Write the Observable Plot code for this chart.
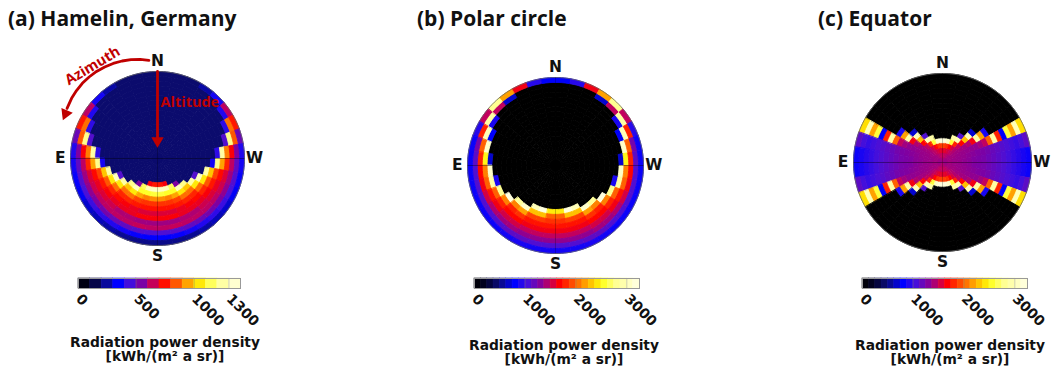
<!DOCTYPE html>
<html>
<head>
<meta charset="utf-8">
<script src="https://cdn.jsdelivr.net/npm/d3@7"></script>
<script src="https://cdn.jsdelivr.net/npm/@observablehq/plot@0.6"></script>
<style>
  html, body { margin: 0; padding: 0; background: #fff; }
  #fig { position: relative; width: 1058px; height: 372px; overflow: hidden; background: #fff; }
  .abs { position: absolute; }
  .title { font-family: "Open Sans", sans-serif; font-weight: 700; font-size: 21px; line-height: 21px; color: #111; white-space: nowrap; }
  .unit { font-family: "DejaVu Sans", sans-serif; font-weight: 700; font-size: 13.8px; line-height: 14px; color: #111; text-align: center; white-space: nowrap; transform: translateX(-50%); }
</style>
</head>
<body>
<div id="fig"></div>
<script>
// ---------------- DATA ----------------
// Azimuth bins (degrees from North towards East); sky maps are mirror-symmetric
// about the N–S meridian, values read on the eastern half apply to both halves.
const azimuthBinStart = [0, 10, 20, 30, 40, 50, 60, 70, 80, 90, 100, 110, 120, 130, 140, 150, 160, 170];
const azimuthBinWidth = 10;
// Zenith-angle rings (0 = zenith/centre, 85–90 = horizon/rim)
const zenithBinStart = [0, 5, 10, 15, 20, 25, 30, 35, 40, 45, 50, 55, 60, 65, 70, 75, 80, 85];
const zenithBinWidth = 5;

// (a) Hamelin, Germany — one array per azimuth bin, values per ring from zenith to horizon [kWh/(m² a sr)]
const hamelin = [
  [200,200,200,200,200,200,200,200,200,200,200,200,200,200,200,200,200,200],
  [200,200,200,200,200,200,200,200,200,200,200,200,200,200,200,200,200,200],
  [200,200,200,200,200,200,200,200,200,200,200,200,200,200,200,200,200,200],
  [200,200,200,200,200,200,200,200,200,200,200,200,200,200,200,200,200,260],
  [200,200,200,200,200,200,200,200,200,200,200,200,200,200,200,200,200,380],
  [200,200,200,200,200,200,200,200,200,200,200,200,200,200,200,200,400,640],
  [200,200,200,200,200,200,200,200,200,200,200,200,200,200,200,420,880,760],
  [200,200,200,200,200,200,200,200,200,200,200,200,200,200,480,1200,850,520],
  [200,200,200,200,200,200,200,200,200,200,200,200,420,1250,900,720,560,400],
  [200,200,200,200,200,200,200,200,200,200,200,380,1200,950,780,640,500,380],
  [200,200,200,200,200,200,200,200,200,200,1250,1000,820,740,680,600,480,360],
  [200,200,200,200,200,200,200,200,480,1300,1050,850,760,700,660,580,460,340],
  [200,200,200,200,200,200,200,200,1250,1050,880,780,720,680,640,560,440,300],
  [200,200,200,200,200,200,200,1200,1000,880,780,740,700,660,640,540,420,280],
  [200,200,200,200,200,200,560,1300,1050,880,780,720,700,620,640,520,400,260],
  [200,200,200,200,200,200,1150,1100,950,820,760,700,700,620,640,500,380,240],
  [200,200,200,200,200,720,1300,1100,900,800,750,680,720,600,650,480,360,230],
  [200,200,200,200,200,760,1320,1120,920,800,750,680,720,600,640,470,350,230]
];

// (b) Polar circle
const polarCircle = [
  [0,0,0,0,0,0,0,0,0,0,0,0,0,0,0,0,0,800],
  [0,0,0,0,0,0,0,0,0,0,0,0,0,0,0,0,0,950],
  [0,0,0,0,0,0,0,0,0,0,0,0,0,0,0,0,0,1650],
  [0,0,0,0,0,0,0,0,0,0,0,0,0,0,0,0,700,2200],
  [0,0,0,0,0,0,0,0,0,0,0,0,0,0,0,0,1500,2800],
  [0,0,0,0,0,0,0,0,0,0,0,0,0,0,0,900,2900,1500],
  [0,0,0,0,0,0,0,0,0,0,0,0,0,0,800,3000,1800,950],
  [0,0,0,0,0,0,0,0,0,0,0,0,0,0,3100,2000,1250,850],
  [0,0,0,0,0,0,0,0,0,0,0,0,0,700,2500,1800,1150,850],
  [0,0,0,0,0,0,0,0,0,0,0,0,0,3100,2100,1700,1100,850],
  [0,0,0,0,0,0,0,0,0,0,0,0,900,2900,2000,1650,1100,850],
  [0,0,0,0,0,0,0,0,0,0,0,0,2800,2000,1750,1550,1100,850],
  [0,0,0,0,0,0,0,0,0,0,0,3200,2100,1800,1650,1450,1100,850],
  [0,0,0,0,0,0,0,0,0,0,2850,2100,1800,1700,1550,1400,1100,850],
  [0,0,0,0,0,0,0,0,0,0,3100,2200,1850,1700,1550,1400,1150,880],
  [0,0,0,0,0,0,0,0,0,3000,2300,1900,1750,1650,1500,1350,1150,900],
  [0,0,0,0,0,0,0,0,0,3200,2300,1900,1750,1650,1500,1350,1100,880],
  [0,0,0,0,0,0,0,0,0,2450,2000,1850,1750,1650,1500,1350,1100,880]
];

// (c) Equator
const equator = [
  [1450,1500,1600,1900,3200,0,0,0,0,0,0,0,0,0,0,0,0,0],
  [1450,1500,1600,1850,3100,0,0,0,0,0,0,0,0,0,0,0,0,0],
  [1420,1480,1550,1700,2600,2900,0,0,0,0,0,0,0,0,0,0,0,0],
  [1400,1450,1500,1550,1800,3000,1100,0,0,0,0,0,0,0,0,0,0,0],
  [1400,1420,1450,1450,1500,1700,2300,3000,700,0,0,0,0,0,0,0,0,0],
  [1380,1400,1400,1400,1400,1400,1450,1650,2900,2200,900,0,0,0,0,0,0,0],
  [1380,1400,1400,1380,1370,1360,1350,1350,1400,1500,2000,2900,1800,800,2600,2200,3000,2400],
  [1380,1400,1380,1370,1360,1340,1320,1300,1280,1250,1200,1160,1120,1080,1040,1000,1050,1150],
  [1380,1400,1380,1370,1350,1330,1300,1280,1260,1220,1180,1140,1100,1050,1000,950,900,850],
  [1380,1400,1380,1370,1350,1330,1300,1280,1260,1220,1180,1140,1100,1050,1000,950,900,850],
  [1380,1400,1380,1370,1360,1340,1320,1300,1280,1250,1200,1160,1120,1080,1040,1000,1050,1150],
  [1380,1400,1400,1380,1370,1360,1350,1350,1400,1500,2000,2900,1800,800,2600,2200,3000,2400],
  [1380,1400,1400,1400,1400,1400,1450,1650,2900,2200,900,0,0,0,0,0,0,0],
  [1400,1420,1450,1450,1500,1700,2300,3000,700,0,0,0,0,0,0,0,0,0],
  [1400,1450,1500,1550,1800,3000,1100,0,0,0,0,0,0,0,0,0,0,0],
  [1420,1480,1550,1700,2600,2900,0,0,0,0,0,0,0,0,0,0,0,0],
  [1450,1500,1600,1850,3100,0,0,0,0,0,0,0,0,0,0,0,0,0],
  [1450,1500,1600,1900,3200,0,0,0,0,0,0,0,0,0,0,0,0,0]
];

const ticksA = [0, 500, 1000, 1300];
const ticksBC = [0, 1000, 2000, 3000];
const compass = [
  {label: "N", az: 0}, {label: "E", az: 90}, {label: "S", az: 180}, {label: "W", az: 270}
];
// annotation path of panel (a)
const azimuthArrowPath = [
  {az: 5, lat: -12}, {az: 15, lat: -16}, {az: 25, lat: -18.5}, {az: 35, lat: -20},
  {az: 45, lat: -20}, {az: 55, lat: -18.5}, {az: 61, lat: -17}
];

// colour map (fraction of colour-bar range → colour)
const colorStops = [0, 0.07, 0.15, 0.25, 0.33, 0.40, 0.46, 0.52, 0.59, 0.66, 0.74, 0.78, 0.86, 1];
const colorStopColors = ["#000000", "#000024", "#0c0c74", "#0000ff", "#4a10d8", "#8000a0", "#c00060",
  "#ff0000", "#ff4400", "#ff9000", "#ffe000", "#ffff20", "#ffff90", "#ffffe6"];

// ---------------- RENDER ----------------
const ramp = d3.scaleLinear().domain(colorStops).range(colorStopColors).interpolate(d3.interpolateRgb).clamp(true);
const colorOpts = max => ({type: "linear", domain: [0, max], interpolate: t => ramp(t), clamp: true});
const RED = "#c00000";
const fig = document.getElementById("fig");

function cellPolygon(lon0, lon1, lat0, lat1) {
  const n = Math.max(2, Math.ceil((lon1 - lon0) / 2));
  const ring = [];
  if (lat1 >= 90) ring.push([lon0, 90]);
  else for (let k = 0; k <= n; k++) ring.push([lon0 + (lon1 - lon0) * k / n, lat1]);
  for (let k = n; k >= 0; k--) ring.push([lon0 + (lon1 - lon0) * k / n, lat0]);
  ring.push(ring[0]);
  let g = {type: "Polygon", coordinates: [ring]};
  if (d3.geoArea(g) > 2 * Math.PI) g = {type: "Polygon", coordinates: [ring.slice().reverse()]};
  return g;
}

function cellFeatures(cols) {
  const out = [];
  cols.forEach((col, j) => {
    const a0 = azimuthBinStart[j], a1 = a0 + azimuthBinWidth;
    col.forEach((v, i) => {
      const z0 = zenithBinStart[i], z1 = z0 + zenithBinWidth;
      const lat0 = 90 - z1, lat1 = 90 - z0;
      out.push({type: "Feature", properties: {v}, geometry: cellPolygon(a0 - 180, a1 - 180, lat0, lat1)}); // east
      out.push({type: "Feature", properties: {v}, geometry: cellPolygon(180 - a1, 180 - a0, lat0, lat1)}); // west
    });
  });
  return out;
}

const horizon = d3.geoCircle().center([0, 90]).radius(90)();
const lonOf = az => az - 180;

const panels = [
  {title: "(a) Hamelin, Germany", titleX: 8, data: hamelin, max: 1400, ticks: ticksA, blocks: 14,
   cx: 157, cy: 157.5, R: 87, barX0: 77.5, barX1: 239.5, unitX: 165, unitY: 334.5, annotate: true},
  {title: "(b) Polar circle", titleX: 417, data: polarCircle, max: 3250, ticks: ticksBC, blocks: 26,
   cx: 555, cy: 164.5, R: 88, barX0: 473.5, barX1: 638.5, unitX: 564, unitY: 338},
  {title: "(c) Equator", titleX: 818, data: equator, max: 3250, ticks: ticksBC, blocks: 26,
   cx: 942, cy: 162, R: 89, barX0: 862, barX1: 1027, unitX: 950, unitY: 338}
];

const SZ = 240;
panels.forEach(p => {
  const marks = [
    Plot.geo(cellFeatures(p.data), {fill: d => d.properties.v, stroke: d => d.properties.v, strokeWidth: 0.9}),
    Plot.line([{lon: -90, lat: 0}, {lon: -90, lat: 90}, {lon: 90, lat: 0}], {x: "lon", y: "lat", stroke: "#000", strokeWidth: 0.7, strokeOpacity: 0.55}),
    Plot.line([{lon: 180, lat: 0}, {lon: 180, lat: 90}, {lon: 0, lat: 0}], {x: "lon", y: "lat", stroke: "#000", strokeWidth: 0.6, strokeOpacity: 0.4}),
    Plot.geo(horizon, {stroke: "#666", strokeWidth: 0.8}),
    Plot.text(compass, {x: d => lonOf(d.az), y: () => -10.5, text: "label", fontSize: 15.5, fontWeight: "bold",
      fontFamily: "DejaVu Sans", fill: "#111", textAnchor: "middle", lineAnchor: "middle"})
  ];
  if (p.annotate) {
    marks.push(
      Plot.line(azimuthArrowPath, {x: d => lonOf(d.az), y: "lat", stroke: RED, strokeWidth: 2.8}),
      Plot.dot([{az: 64, lat: -15.7}], {x: d => lonOf(d.az), y: "lat", symbol: "triangle", r: 4.6, fill: RED, rotate: 203}),
      Plot.line([{az: 0, lat: 0}, {az: 0, lat: 70}], {x: d => lonOf(d.az), y: "lat", stroke: RED, strokeWidth: 2.8}),
      Plot.dot([{az: 0, lat: 71.6}], {x: d => lonOf(d.az), y: "lat", symbol: "triangle", r: 4.6, fill: RED, rotate: 180}),
      Plot.text([{az: 35, lat: -27, t: "Azimuth"}], {x: d => lonOf(d.az), y: "lat", text: "t", rotate: -31,
        fill: RED, fontSize: 14.5, fontWeight: "bold", fontFamily: "Open Sans"}),
      Plot.text([{az: 0, lat: 31.5, t: "Altitude"}], {x: d => lonOf(d.az), y: "lat", text: "t", dx: 3,
        textAnchor: "start", fill: RED, fontSize: 14.5, fontWeight: "bold", fontFamily: "Open Sans"})
    );
  }
  const disk = Plot.plot({
    width: SZ, height: SZ, margin: SZ / 2 - p.R,
    projection: {type: "azimuthal-equidistant", rotate: [0, -90], domain: horizon, clip: false},
    color: colorOpts(p.max),
    style: {background: "transparent", overflow: "visible"},
    marks
  });
  disk.classList.add("abs");
  disk.style.left = (p.cx - SZ / 2) + "px";
  disk.style.top = (p.cy - SZ / 2) + "px";
  fig.appendChild(disk);

  // colour bar
  const ml = 8, mr = 50, bw = p.barX1 - p.barX0;
  const n = p.blocks;
  const steps = d3.range(n).map(k => ({x1: p.max * k / n, x2: p.max * (k + 1) / n, v: p.max * (k + 0.5) / n}));
  const bar = Plot.plot({
    width: ml + bw + mr, height: 10 + 52,
    marginLeft: ml, marginRight: mr, marginTop: 0, marginBottom: 52,
    x: {domain: [0, p.max]},
    color: colorOpts(p.max),
    style: {background: "transparent", overflow: "visible"},
    marks: [
      Plot.rect(steps, {x1: "x1", x2: "x2", fill: "v", stroke: "v", strokeWidth: 0.6}),
      Plot.tickX(p.ticks.slice(1), {stroke: "#777", strokeOpacity: 0.45, strokeWidth: 0.8}),
      Plot.frame({stroke: "#999"}),
      Plot.axisX({ticks: p.ticks, tickSize: 0, tickPadding: 8, tickRotate: 45, tickFormat: d => String(d),
        fontSize: 14, fontWeight: "bold", fontFamily: "DejaVu Sans", fill: "#111", label: null})
    ]
  });
  bar.classList.add("abs");
  bar.style.left = (p.barX0 - ml) + "px";
  bar.style.top = "278.3px";
  fig.appendChild(bar);

  const unit = document.createElement("div");
  unit.className = "abs unit";
  unit.style.left = p.unitX + "px";
  unit.style.top = p.unitY + "px";
  unit.innerHTML = "Radiation power density<br>[kWh/(m² a sr)]";
  fig.appendChild(unit);

  const t = document.createElement("div");
  t.className = "abs title";
  t.style.left = p.titleX + "px";
  t.style.top = "8px";
  t.textContent = p.title;
  fig.appendChild(t);
});
</script>
</body>
</html>
